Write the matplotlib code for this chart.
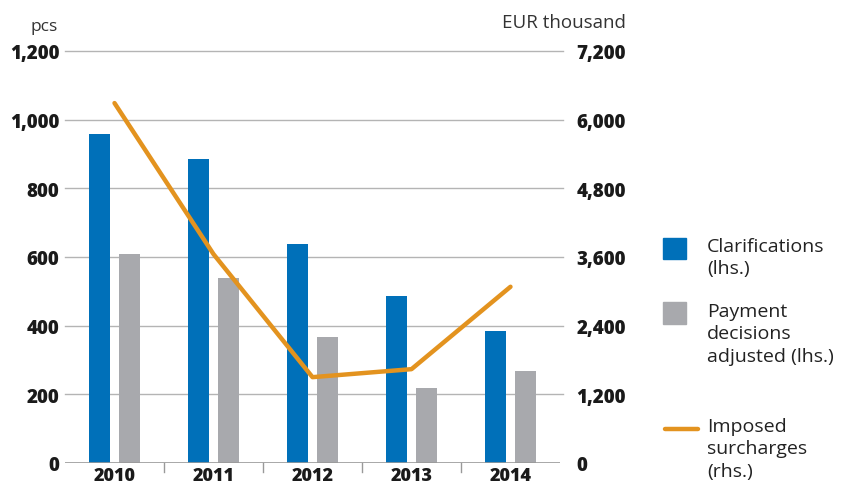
import matplotlib.pyplot as plt
import numpy as np
from matplotlib.lines import Line2D
from matplotlib.patches import Rectangle
from matplotlib.ticker import FuncFormatter

years = ["2010", "2011", "2012", "2013", "2014"]
clarifications = [958, 885, 638, 486, 384]
payment_adjusted = [609, 539, 367, 218, 268]
surcharges = [6290, 3650, 1500, 1640, 3080]

left_ticks = [0, 200, 400, 600, 800, 1000, 1200]
right_ticks = [0, 1200, 2400, 3600, 4800, 6000, 7200]

legend_labels = ["Clarifications\n(lhs.)", "Payment\ndecisions\nadjusted (lhs.)",
                 "Imposed\nsurcharges\n(rhs.)"]

BLUE = "#0070b9"
GREY = "#a8a9ad"
ORANGE = "#e3931f"
GRID = "#b4b4b4"
TXT = "#1a1a1a"

plt.rcParams['font.family'] = ['Open Sans', 'DejaVu Sans']

W, H = 845, 489
fig = plt.figure(figsize=(W / 100, H / 100), dpi=100)
ax = fig.add_axes([65 / W, 1 - 464 / H, 495 / W, 412 / H])
ax2 = ax.twinx()

x = np.arange(len(years))
w = 0.21
ax.bar(x - 0.15, clarifications, w, color=BLUE, zorder=3)
ax.bar(x + 0.15, payment_adjusted, w, color=GREY, zorder=3)
ax2.plot(x, surcharges, color=ORANGE, lw=3.2, solid_capstyle='round', zorder=4)

ax.set_xlim(-0.5, len(years) - 0.5)
ax.set_ylim(0, 1200)
ax2.set_ylim(0, 7200)
ax.set_yticks(left_ticks)
ax2.set_yticks(right_ticks)
fmt = FuncFormatter(lambda v, p: "{:,.0f}".format(v))
ax.yaxis.set_major_formatter(fmt)
ax2.yaxis.set_major_formatter(fmt)

for t in left_ticks[1:]:
    ax.axhline(t, color=GRID, lw=1, zorder=1, xmax=1.006, clip_on=False)

for a in (ax, ax2):
    for s in a.spines.values():
        s.set_visible(False)
ax.axhline(0, color="#999999", lw=1.2, zorder=5)

ax.set_xticks(x)
ax.set_xticklabels(years, fontsize=13, fontweight='heavy', color=TXT)
ax.tick_params(axis='x', length=0, pad=3)
for b in x[:-1] + 0.5:
    ax.plot([b, b], [0, -26], color="#999999", lw=1, clip_on=False)

ax.tick_params(axis='y', length=0, pad=4, labelsize=13.5, labelcolor=TXT)
for lab in ax.get_yticklabels():
    lab.set_fontweight('heavy')
ax2.tick_params(axis='y', length=0, pad=12, labelsize=13.5, labelcolor=TXT)
for lab in ax2.get_yticklabels():
    lab.set_fontweight('heavy')

fig.text(58 / W, 1 - 27 / H, "pcs", ha='right', va='center', fontsize=12.5, color="#333333")
fig.text(626 / W, 1 - 23 / H, "EUR thousand", ha='right', va='center', fontsize=13.5, color="#333333")

# legend drawn by hand to get the loose line spacing of the original
fig.patches.append(Rectangle((663 / W, 1 - 260 / H), 23 / W, 21 / H,
                             transform=fig.transFigure, color=BLUE))
fig.patches.append(Rectangle((663 / W, 1 - 325 / H), 23 / W, 22 / H,
                             transform=fig.transFigure, color=GREY))
fig.lines.append(Line2D([665 / W, 698 / W], [1 - 430 / H, 1 - 430 / H],
                        transform=fig.transFigure, color=ORANGE, lw=3.2,
                        solid_capstyle='round'))
for lab, ytop in zip(legend_labels, [238, 303, 418]):
    fig.text(707 / W, 1 - ytop / H, lab, ha='left', va='top', fontsize=14,
             color="#222222", linespacing=1.32)

fig.savefig("out.png", dpi=100)
